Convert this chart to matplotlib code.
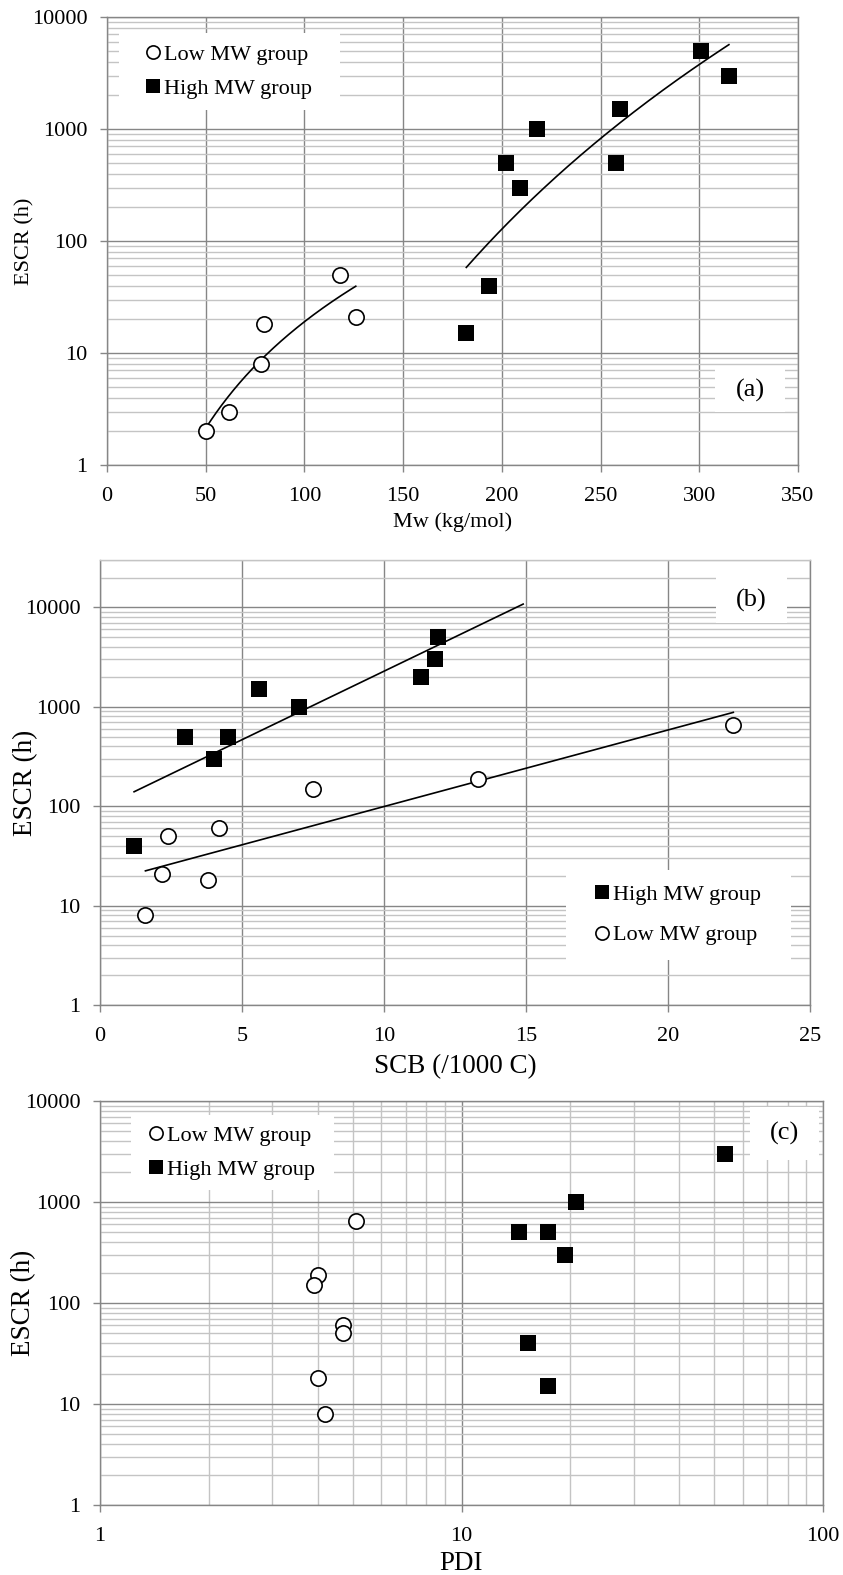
import numpy as np
import matplotlib
matplotlib.use('Agg')
import matplotlib.pyplot as plt
from matplotlib.ticker import FuncFormatter, LogLocator, MultipleLocator, NullFormatter
from matplotlib.lines import Line2D
from matplotlib.patches import Rectangle

plt.rcParams['font.family'] = ['Liberation Serif', 'DejaVu Serif']

# ---------------- data ----------------
# panel (a): ESCR vs Mw
a_low_mw = [50, 62, 78, 79.5, 118, 126]
a_low_escr = [2, 3, 8, 18, 50, 21]
a_high_mw = [182, 193.5, 202, 209, 218, 258, 260, 301, 315]
a_high_escr = [15, 40, 500, 300, 1000, 500, 1500, 5000, 3000]

# panel (b): ESCR vs SCB
b_high_scb = [1.2, 3.0, 4.0, 4.5, 5.6, 7.0, 11.3, 11.8, 11.9]
b_high_escr = [40, 500, 300, 500, 1500, 1000, 2000, 3000, 5000]
b_low_scb = [1.6, 2.2, 2.4, 3.8, 4.2, 7.5, 13.3, 22.3]
b_low_escr = [8, 21, 50, 18, 60, 150, 190, 650]

# panel (c): ESCR vs PDI
c_low_pdi = [5.1, 4.0, 3.9, 4.7, 4.7, 4.0, 4.2]
c_low_escr = [650, 190, 150, 60, 50, 18, 8]
c_high_pdi = [53.5, 20.8, 14.4, 17.4, 19.3, 15.3, 17.4]
c_high_escr = [3000, 1000, 500, 500, 300, 40, 15]

low_label = 'Low MW group'
high_label = 'High MW group'
b_high_forward = 3.0  # trendline forward forecast (units of SCB)

# ---------------- style ----------------
MAJ = '#868686'
MIN = '#c4c4c4'
W, H = 843, 1575
fig = plt.figure(figsize=(W / 100, H / 100), dpi=100)


def px_axes(l, t, r, b):
    return fig.add_axes([l / W, 1 - b / H, (r - l) / W, (b - t) / H])


fmt = FuncFormatter(lambda v, p: f'{v:g}')
circ = dict(marker='o', ls='none', ms=11, mfc='white', mec='black', mew=1.2)
sq = dict(marker='s', ls='none', ms=11, mfc='black', mec='black', mew=0)


def style(ax, xminor=False, top_color=MAJ):
    ax.set_yscale('log')
    ax.yaxis.set_major_locator(LogLocator(base=10, numticks=12))
    ax.yaxis.set_minor_locator(LogLocator(base=10, subs=np.arange(2, 10), numticks=12))
    ax.yaxis.set_major_formatter(fmt)
    ax.yaxis.set_minor_formatter(NullFormatter())
    ax.set_axisbelow(True)
    ax.grid(True, which='major', axis='both', color=MAJ, lw=1.0)
    ax.grid(True, which='minor', axis='both' if xminor else 'y', color=MIN, lw=1.0)
    for s in ax.spines.values():
        s.set_color(MAJ)
        s.set_linewidth(1.0)
    ax.spines['top'].set_color(top_color)
    ax.tick_params(which='major', direction='out', length=5, width=1.0, color=MAJ,
                   labelsize=16)
    ax.tick_params(axis='y', which='major', pad=9)
    ax.tick_params(axis='x', which='major', pad=11)
    ax.tick_params(which='minor', length=0)


def white_box(ax, l, t, r, b, ax_l, ax_t, ax_r, ax_b):
    # l,t,r,b in figure pixels, converted to axes fraction
    x0 = (l - ax_l) / (ax_r - ax_l)
    x1 = (r - ax_l) / (ax_r - ax_l)
    y0 = (ax_b - b) / (ax_b - ax_t)
    y1 = (ax_b - t) / (ax_b - ax_t)
    ax.add_patch(Rectangle((x0, y0), x1 - x0, y1 - y0, transform=ax.transAxes,
                           facecolor='white', edgecolor='none', zorder=1))
    return (x0 + x1) / 2, (y0 + y1) / 2


def legend(ax, order, cx, cy, spacing):
    handles = {
        'low': Line2D([], [], marker='o', ls='none', ms=9.5, mfc='white', mec='black', mew=1.2),
        'high': Line2D([], [], marker='s', ls='none', ms=9.5, mfc='black', mec='black', mew=0),
    }
    labels = {'low': low_label, 'high': high_label}
    ax.legend([handles[k] for k in order], [labels[k] for k in order],
              loc='center', bbox_to_anchor=(cx, cy), frameon=False, fontsize=16,
              handlelength=0.6, handletextpad=0.2, labelspacing=spacing,
              borderpad=0, borderaxespad=0)


# ---------------- panel (a) ----------------
AL, AT, AR, AB = 107, 17, 798, 465
ax = px_axes(AL, AT, AR, AB)
style(ax)
ax.set_xlim(0, 350)
ax.set_ylim(1, 10000)
ax.xaxis.set_major_locator(MultipleLocator(50))
for xs_, ys_ in ((a_low_mw, a_low_escr), (a_high_mw, a_high_escr)):
    c = np.polyfit(np.log10(xs_), np.log10(ys_), 1)
    xx = np.linspace(min(xs_), max(xs_), 200)
    ax.plot(xx, 10 ** np.polyval(c, np.log10(xx)), color='black', lw=1.2, zorder=3)
ax.plot(a_low_mw, a_low_escr, zorder=4, **circ)
ax.plot(a_high_mw, a_high_escr, zorder=4, **sq)
cx, cy = white_box(ax, 119, 33, 340, 110, AL, AT, AR, AB)
legend(ax, ['low', 'high'], cx, cy, 0.6)
cx, cy = white_box(ax, 715, 369, 785, 412, AL, AT, AR, AB)
ax.text(cx, cy, '(a)', transform=ax.transAxes, ha='center', va='center', fontsize=19, zorder=5)
ax.set_ylabel('ESCR (h)', fontsize=16, va='center')
ax.set_xlabel('Mw (kg/mol)', fontsize=16, va='center')
ax.yaxis.set_label_coords((25 - AL) / (AR - AL), 0.5)
ax.xaxis.set_label_coords(0.5, (AB - 522) / (AB - AT))

# ---------------- panel (b) ----------------
BL, BT, BR, BB = 100, 560, 810, 1005
ax = px_axes(BL, BT, BR, BB)
style(ax, top_color=MIN)
ax.set_xlim(0, 25)
ax.set_ylim(1, 30000)
ax.xaxis.set_major_locator(MultipleLocator(5))
for xs_, ys_, fwd in ((b_high_scb, b_high_escr, b_high_forward), (b_low_scb, b_low_escr, 0.0)):
    c = np.polyfit(xs_, np.log10(ys_), 1)
    xx = np.linspace(min(xs_), max(xs_) + fwd, 200)
    ax.plot(xx, 10 ** np.polyval(c, xx), color='black', lw=1.2, zorder=3)
ax.plot(b_high_scb, b_high_escr, zorder=4, **sq)
ax.plot(b_low_scb, b_low_escr, zorder=4, **circ)
cx, cy = white_box(ax, 566, 870, 791, 960, BL, BT, BR, BB)
legend(ax, ['high', 'low'], cx, cy, 0.88)
cx, cy = white_box(ax, 716, 577, 787, 623, BL, BT, BR, BB)
ax.text(cx, cy, '(b)', transform=ax.transAxes, ha='center', va='center', fontsize=19, zorder=5)
ax.set_ylabel('ESCR (h)', fontsize=19.5, va='center')
ax.set_xlabel('SCB (/1000 C)', fontsize=19.5, va='center')
ax.yaxis.set_label_coords((26 - BL) / (BR - BL), 0.5)
ax.xaxis.set_label_coords(0.5, (BB - 1067) / (BB - BT))

# ---------------- panel (c) ----------------
CL, CT, CR, CB = 100, 1101, 823, 1505
ax = px_axes(CL, CT, CR, CB)
ax.set_xscale('log')
style(ax, xminor=True)
ax.set_xlim(1, 100)
ax.set_ylim(1, 10000)
ax.xaxis.set_major_locator(LogLocator(base=10, numticks=5))
ax.xaxis.set_minor_locator(LogLocator(base=10, subs=np.arange(2, 10), numticks=5))
ax.xaxis.set_major_formatter(fmt)
ax.xaxis.set_minor_formatter(NullFormatter())
ax.plot(c_low_pdi, c_low_escr, zorder=4, **circ)
ax.plot(c_high_pdi, c_high_escr, zorder=4, **sq)
cx, cy = white_box(ax, 131, 1115, 334, 1190, CL, CT, CR, CB)
legend(ax, ['low', 'high'], cx, cy, 0.58)
cx, cy = white_box(ax, 750, 1107, 819, 1160, CL, CT, CR, CB)
ax.text(cx, cy, '(c)', transform=ax.transAxes, ha='center', va='center', fontsize=19, zorder=5)
ax.set_ylabel('ESCR (h)', fontsize=19.5, va='center')
ax.set_xlabel('PDI', fontsize=19.5, va='center')
ax.yaxis.set_label_coords((24 - CL) / (CR - CL), 0.5)
ax.xaxis.set_label_coords(0.5, (CB - 1563) / (CB - CT))

fig.savefig('out.png', dpi=100, facecolor='white')
